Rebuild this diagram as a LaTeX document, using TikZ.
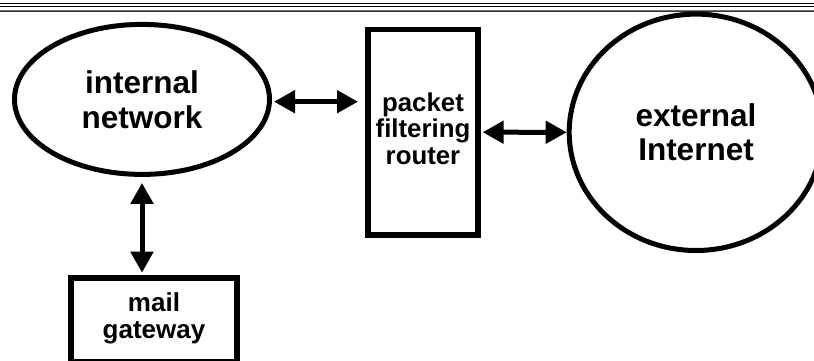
\documentclass[tikz,border=0pt]{standalone}
\usepackage{fontspec}
\setmainfont{Liberation Sans}
\usetikzlibrary{shapes.geometric,arrows.meta,calc}
\begin{document}
\begin{tikzpicture}[x=1pt,y=-1pt,
  oval/.style={draw, ellipse, line width=5pt, inner sep=0pt, align=center,
    font=\fontsize{31.5}{35}\selectfont\bfseries},
  boxshape/.style={draw, rectangle, line width=5.6pt, inner sep=0pt},
  boxtext/.style={inner sep=0pt, align=center,
    font=\fontsize{25.8}{26.5}\selectfont\bfseries},
  dblarrow/.style={line width=5pt,
    {Triangle[length=21pt,width=22pt]}-{Triangle[length=21pt,width=22pt]}},
  rule/.style={line width=#1}
]
% canvas
\useasboundingbox (0,0) rectangle (814,360);
\clip (0,0) rectangle (814,360);
\fill[white] (0,0) rectangle (814,360);

% header rules
\draw[rule=0.9pt, black] (0,3.3) -- (814,3.3);
\draw[rule=0.9pt, black] (0,6.8) -- (814,6.8);
\draw[rule=0.8pt, black!55] (0,10.2) -- (814,10.2);
\draw[rule=0.8pt, black!80] (0,11.7) -- (814,11.7);

% networks
\node[oval, minimum width=255pt, minimum height=150pt] (int) at (142,99.4)
  {internal\\network};
\node[oval, minimum width=253.6pt, minimum height=236.4pt,
  font=\fontsize{31.5}{34}\selectfont\bfseries] (ext) at (696,132.3)
  {external\\Internet};

% router and gateway boxes
\node[boxshape, minimum width=110.4pt, minimum height=205.4pt] (rtr) at (423,132.2) {};
\node[boxtext] (rtrtxt) at (423,128.4) {packet\\filtering\\router};

\node[boxshape, minimum width=166.4pt, minimum height=84.2pt] (mail) at (154,319.9) {};
\node[boxtext, font=\fontsize{26}{26.5}\selectfont\bfseries] (mailtxt) at (154,318.3)
  {mail\\gateway};

% links
\draw[dblarrow, shorten <=2pt, shorten >=7pt] ($(int.east)+(0,2.3)$) -- ($(int.east -| rtr.west)+(0,2.3)$);
\draw[dblarrow, shorten <=1.7pt] (rtr.east) -- (ext.west);
\draw[dblarrow, shorten <=6pt, shorten >=2.3pt] (int.south) -- (int.south |- mail.north);
\end{tikzpicture}
\end{document}
